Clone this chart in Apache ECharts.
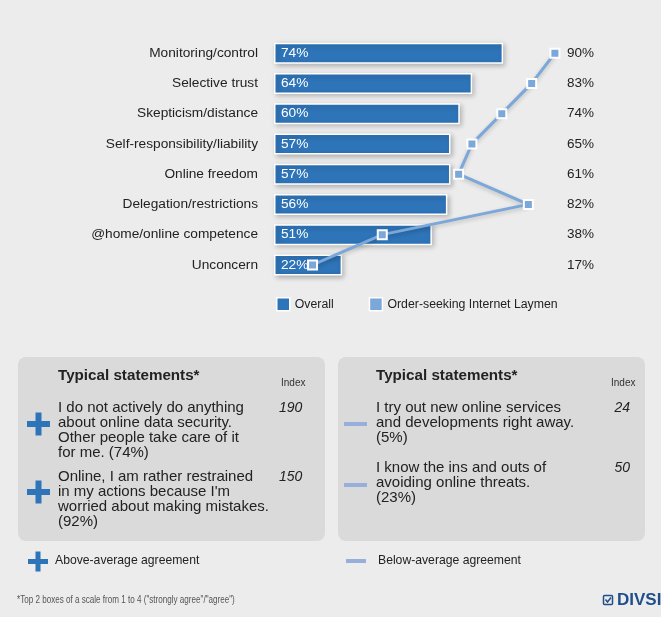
<!DOCTYPE html>
<html><head><meta charset="utf-8">
<script src="https://cdn.jsdelivr.net/npm/echarts@6/dist/echarts.min.js"></script>
<style>html,body{margin:0;padding:0;background:#ececec;}#c{width:661px;height:617px;}</style>
</head><body><div id="c"></div>
<script>
var categories = ["Monitoring/control","Selective trust","Skepticism/distance","Self-responsibility/liability","Online freedom","Delegation/restrictions","@home/online competence","Unconcern"];
var overall = [74,64,60,57,57,56,51,22];
var laymen = [90,83,74,65,61,82,38,17];
var seriesNames = ["Overall","Order-seeking Internet Laymen"];
var panelTitle = "Typical statements*";
var aboveStatements = ["I do not actively do anything\nabout online data security.\nOther people take care of it\nfor me. (74%)","Online, I am rather restrained\nin my actions because I'm\nworried about making mistakes.\n(92%)"];
var aboveIndex = ["190","150"];
var belowStatements = ["I try out new online services\nand developments right away.\n(5%)","I know the ins and outs of\navoiding online threats.\n(23%)"];
var belowIndex = ["24","50"];
var keyLabels = ["Above-average agreement","Below-average agreement"];
var footnote = '*Top 2 boxes of a scale from 1 to 4 ("strongly agree"/"agree")';
var brand = "DIVSI";

var FONT = '"Liberation Sans", Arial, sans-serif';
var DARK = '#2e74b8', LIGHT = '#7ba7d9', DASH = '#98afdb';
var chart = echarts.init(document.getElementById('c'));

function plus(cx, cy, s, t) {
  return [
    {type:'rect', shape:{x:cx-s/2, y:cy-t/2, width:s, height:t}, style:{fill:DARK}},
    {type:'rect', shape:{x:cx-t/2, y:cy-s/2, width:t, height:s}, style:{fill:DARK}}
  ];
}
function dash(x, cy, w, t) {
  return {type:'rect', shape:{x:x, y:cy-t/2, width:w, height:t}, style:{fill:DASH}};
}
function txt(x, y, text, font, fill, extra) {
  var st = {text:text, x:x, y:y, font:font, fill:fill||'#222', textVerticalAlign:'middle'};
  if (extra) for (var k in extra) st[k]=extra[k];
  return {type:'text', style:st};
}

var g = [];
g.push({type:'rect', shape:{x:18, y:357, width:307, height:184, r:8}, style:{fill:'#dadada'}});
g.push({type:'rect', shape:{x:338, y:357, width:307, height:184, r:8}, style:{fill:'#dadada'}});
g.push(txt(58, 376, panelTitle, 'bold 15.2px '+FONT, '#222'));
g.push(txt(376, 376, panelTitle, 'bold 15.2px '+FONT, '#222'));
g.push(txt(281, 383, 'Index', '10px '+FONT, '#333'));
g.push(txt(611, 383, 'Index', '10px '+FONT, '#333'));
var ly = [408, 477];
for (var i=0;i<2;i++){
  g.push({type:'text', style:{text:aboveStatements[i], x:58, y:ly[i]-8, font:'15px '+FONT, fill:'#222', lineHeight:15}});
  g.push(txt(279, ly[i], aboveIndex[i], 'italic 14px '+FONT, '#222'));
}
g = g.concat(plus(38.5, 424, 23, 6));
g = g.concat(plus(38.5, 492, 23, 6));
var ry = [408, 468];
for (var j=0;j<2;j++){
  g.push({type:'text', style:{text:belowStatements[j], x:376, y:ry[j]-8, font:'15px '+FONT, fill:'#222', lineHeight:15}});
  g.push(txt(630, ry[j], belowIndex[j], 'italic 14px '+FONT, '#222', {textAlign:'right'}));
}
g.push(dash(344, 424, 23, 4));
g.push(dash(344, 485, 23, 4));
g = g.concat(plus(38, 561.5, 20, 5));
g.push(txt(55, 561, keyLabels[0], '12.2px '+FONT, '#222'));
g.push(dash(346, 561, 20, 4));
g.push(txt(378, 561, keyLabels[1], '12.2px '+FONT, '#222'));
g.push({type:'text', x:17, y:600, scaleX:0.77, style:{text:footnote, x:0, y:0, font:'10.5px '+FONT, fill:'#555', textVerticalAlign:'middle'}});
g.push({type:'rect', shape:{x:603.5, y:595.5, width:9, height:9, r:1}, style:{fill:'none', stroke:'#1f4e8c', lineWidth:1.5}});
g.push({type:'polyline', shape:{points:[[605.5,599.5],[607.5,602],[611,597.5]]}, style:{stroke:'#1f4e8c', lineWidth:1.5, fill:'none'}});
g.push(txt(617, 600.5, brand, 'bold 17px '+FONT, '#1f4e8c'));

var option = {
  backgroundColor:'#ececec',
  animation:false,
  textStyle:{fontFamily:FONT},
  grid:{left:274, top:38, width:285, height:242},
  legend:{
    left:271, top:292, itemWidth:13, itemHeight:13, itemGap:35,
    textStyle:{fontSize:12.3, color:'#222', fontFamily:FONT},
    data:[{name:seriesNames[0], icon:'rect'},{name:seriesNames[1], icon:'rect'}],
    itemStyle:{borderColor:'#fff', borderWidth:1.5}
  },
  xAxis:[
    {type:'value', min:0, max:92.05, show:false},
    {type:'value', min:5.39, max:91.23, show:false}
  ],
  yAxis:[
    {type:'category', data:categories, inverse:true, axisLine:{show:false}, axisTick:{show:false},
     axisLabel:{margin:16, fontSize:13.7, color:'#222', fontFamily:FONT}},
    {type:'category', data:categories, inverse:true, position:'right', axisLine:{show:false}, axisTick:{show:false},
     axisLabel:{margin:8, fontSize:13.5, color:'#222', fontFamily:FONT, align:'left',
       formatter:function(v, idx){ return laymen[idx] + '%'; }}}
  ],
  series:[
    {name:seriesNames[0], type:'bar', xAxisIndex:0, yAxisIndex:0, data:overall, barWidth:21,
     itemStyle:{color:DARK, borderColor:'#fff', borderWidth:1.5, shadowBlur:5, shadowColor:'rgba(0,0,0,0.25)', shadowOffsetX:2, shadowOffsetY:2},
     label:{show:true, position:'insideLeft', distance:7, color:'#fff', fontSize:13.7, fontFamily:FONT, formatter:'{c}%'}},
    {name:seriesNames[1], type:'line', xAxisIndex:1, yAxisIndex:0, data:laymen, z:5,
     symbol:'rect', symbolSize:9,
     lineStyle:{color:LIGHT, width:3, shadowBlur:4, shadowColor:'rgba(0,0,0,0.2)', shadowOffsetY:2},
     itemStyle:{color:LIGHT, borderColor:'#fff', borderWidth:2}}
  ],
  graphic:g
};
chart.setOption(option);
</script></body></html>
